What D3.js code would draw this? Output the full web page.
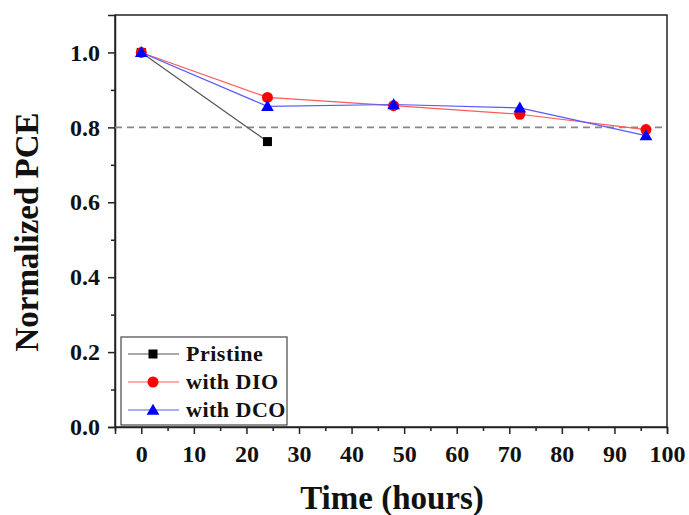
<!DOCTYPE html>
<html><head><meta charset="utf-8">
<script src="https://cdn.jsdelivr.net/npm/d3@7"></script>
<style>body{margin:0;background:#fff}svg{display:block}text{font-family:"Liberation Serif","Times New Roman",serif;font-weight:bold}</style>
</head><body><svg id="c" width="689" height="515"></svg>
<script>
const pristineX = [0, 24];
const pristineY = [1.0, 0.762];
const dioX = [0, 24, 48, 72, 96];
const dioY = [1.0, 0.88, 0.858, 0.835, 0.794];
const dcoX = [0, 24, 48, 72, 96];
const dcoY = [1.0, 0.856, 0.861, 0.852, 0.778];
const xTicks = [0, 10, 20, 30, 40, 50, 60, 70, 80, 90, 100];
const yTicks = [0.0, 0.2, 0.4, 0.6, 0.8, 1.0];
const refLine = 0.8;
const seriesNames = ["Pristine", "with DIO", "with DCO"];

const svg = d3.select("#c");
const L = 115, R = 667, T = 15, B = 427;
const x = d3.scaleLinear().domain([-5, 100]).range([L, R]);
const y = d3.scaleLinear().domain([0, 1.1]).range([B, T]);

// frame
svg.append("rect").attr("x", L).attr("y", T).attr("width", R - L).attr("height", B - T)
  .attr("fill", "none").attr("stroke", "#222").attr("stroke-width", 1.5);

// x axis
const xMinor = d3.range(-5, 101, 5).filter(v => v % 10 !== 0);
svg.append("g").attr("transform", `translate(0,${B})`)
  .call(d3.axisBottom(x).tickValues(xMinor).tickSize(4).tickFormat(""))
  .call(g => g.select(".domain").remove());
const xa = svg.append("g").attr("transform", `translate(0,${B})`)
  .call(d3.axisBottom(x).tickValues(xTicks).tickSize(7).tickPadding(11).tickFormat(d3.format("d")));
xa.select(".domain").attr("stroke", "#222").attr("stroke-width", 1.5);
xa.selectAll("text").attr("font-size", 24).attr("fill", "#111");

// y axis
const yMinor = [0.1, 0.3, 0.5, 0.7, 0.9];
svg.append("g").attr("transform", `translate(${L},0)`)
  .call(d3.axisLeft(y).tickValues(yMinor).tickSize(4).tickFormat(""))
  .call(g => g.select(".domain").remove());
const ya = svg.append("g").attr("transform", `translate(${L},0)`)
  .call(d3.axisLeft(y).tickValues(yTicks).tickSize(7).tickPadding(8).tickFormat(d3.format(".1f")));
ya.select(".domain").attr("stroke", "#222").attr("stroke-width", 1.5);
ya.selectAll("text").attr("font-size", 24).attr("fill", "#111");
svg.selectAll(".tick line").attr("stroke", "#222").attr("stroke-width", 1.5);

// reference dashed line
svg.append("line").attr("x1", L).attr("x2", R).attr("y1", y(refLine)).attr("y2", y(refLine))
  .attr("stroke", "#888").attr("stroke-width", 1.6).attr("stroke-dasharray", "7,5");

const line = d3.line().x(d => x(d[0])).y(d => y(d[1]));
const series = [
  {xs: pristineX, ys: pristineY, color: "#555", mark: "square", mfill: "#000"},
  {xs: dioX, ys: dioY, color: "#ff5a5a", mark: "circle", mfill: "#ff0000"},
  {xs: dcoX, ys: dcoY, color: "#5a5aff", mark: "triangle", mfill: "#0000ff"}
];
function marker(g, s, cx, cy) {
  if (s.mark === "square") g.append("rect").attr("x", cx - 4.5).attr("y", cy - 4.5).attr("width", 9).attr("height", 9).attr("fill", s.mfill);
  else if (s.mark === "circle") g.append("circle").attr("cx", cx).attr("cy", cy).attr("r", 5.5).attr("fill", s.mfill);
  else g.append("path").attr("d", d3.symbol(d3.symbolTriangle, 70)()).attr("transform", `translate(${cx},${cy + 1})`).attr("fill", s.mfill);
}
series.forEach(s => {
  const pts = s.xs.map((v, i) => [v, s.ys[i]]);
  svg.append("path").datum(pts).attr("d", line).attr("fill", "none").attr("stroke", s.color).attr("stroke-width", 1.2);
});
series.forEach(s => {
  const g = svg.append("g");
  s.xs.forEach((v, i) => marker(g, s, x(v), y(s.ys[i])));
});

// legend
const lg = svg.append("g");
lg.append("rect").attr("x", 121).attr("y", 337).attr("width", 166).attr("height", 88)
  .attr("fill", "#fff").attr("stroke", "#555").attr("stroke-width", 1.3);
series.forEach((s, i) => {
  const cy = 354 + i * 28;
  lg.append("line").attr("x1", 128).attr("x2", 179).attr("y1", cy).attr("y2", cy).attr("stroke", s.color).attr("stroke-width", 1.2);
  marker(lg, s, 153, cy);
  lg.append("text").attr("x", 186).attr("y", cy + 7).attr("font-size", 22).attr("letter-spacing", 0.5).attr("fill", "#111").text(seriesNames[i]);
});

// axis titles
svg.append("text").attr("x", 392).attr("y", 509).attr("text-anchor", "middle").attr("font-size", 33).attr("fill", "#111").text("Time (hours)");
svg.append("text").attr("transform", "translate(38,232) rotate(-90)").attr("text-anchor", "middle").attr("font-size", 33).attr("fill", "#111").text("Normalized PCE");
</script></body></html>
